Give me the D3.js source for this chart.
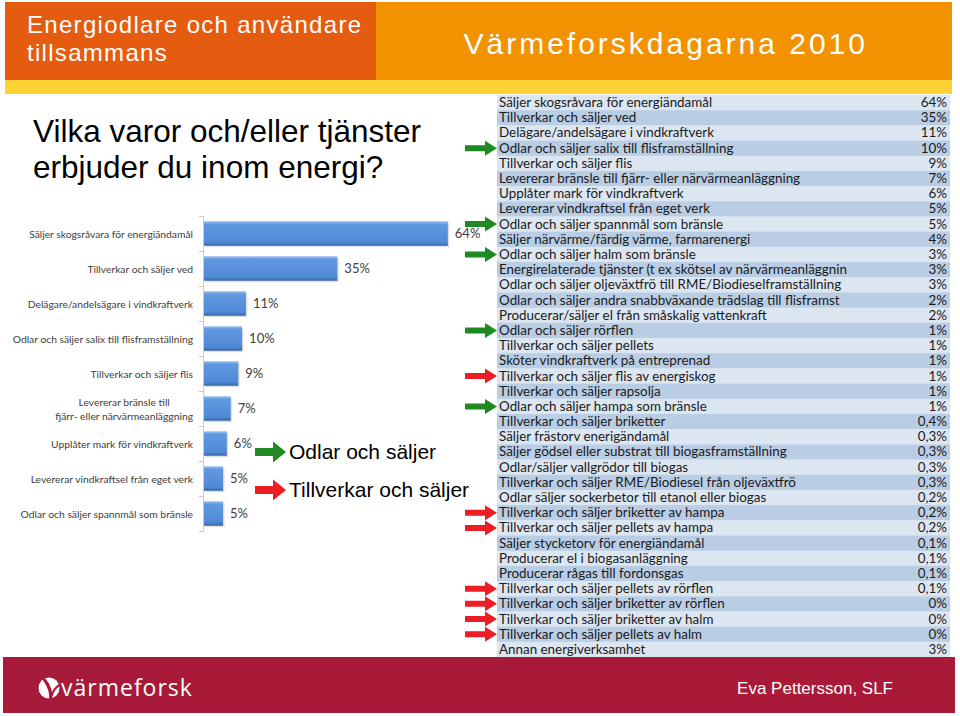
<!DOCTYPE html>
<html>
<head>
<meta charset="utf-8">
<script src="https://cdn.jsdelivr.net/npm/d3@7"></script>
<style>
  body { margin: 0; background: #fff; }
  svg { display: block; }
</style>
</head>
<body>
<div class="canvas"></div>
<script>
// bar chart (top 9 answers)
const barCats = [
  "Säljer skogsråvara för energiändamål",
  "Tillverkar och säljer ved",
  "Delägare/andelsägare i vindkraftverk",
  "Odlar och säljer salix till flisframställning",
  "Tillverkar och säljer flis",
  "Levererar bränsle till|fjärr- eller närvärmeanläggning",
  "Upplåter mark för vindkraftverk",
  "Levererar vindkraftsel från eget verk",
  "Odlar och säljer spannmål som bränsle"
];
const barVals = [64, 35, 11, 10, 9, 7, 6, 5, 5];

// full table
const tableNames = [
  "Säljer skogsråvara för energiändamål",
  "Tillverkar och säljer ved",
  "Delägare/andelsägare i vindkraftverk",
  "Odlar och säljer salix till flisframställning",
  "Tillverkar och säljer flis",
  "Levererar bränsle till fjärr- eller närvärmeanläggning",
  "Upplåter mark för vindkraftverk",
  "Levererar vindkraftsel från eget verk",
  "Odlar och säljer spannmål som bränsle",
  "Säljer närvärme/färdig värme, farmarenergi",
  "Odlar och säljer halm som bränsle",
  "Energirelaterade tjänster (t ex skötsel av närvärmeanläggnin",
  "Odlar och säljer oljeväxtfrö till RME/Biodieselframställning",
  "Odlar och säljer andra snabbväxande trädslag till flisframst",
  "Producerar/säljer el från småskalig vattenkraft",
  "Odlar och säljer rörflen",
  "Tillverkar och säljer pellets",
  "Sköter vindkraftverk på entreprenad",
  "Tillverkar och säljer flis av energiskog",
  "Tillverkar och säljer rapsolja",
  "Odlar och säljer hampa som bränsle",
  "Tillverkar och säljer briketter",
  "Säljer frästorv enerigändamål",
  "Säljer gödsel eller substrat till biogasframställning",
  "Odlar/säljer vallgrödor till biogas",
  "Tillverkar och säljer RME/Biodiesel från oljeväxtfrö",
  "Odlar säljer sockerbetor till etanol eller biogas",
  "Tillverkar och säljer briketter av hampa",
  "Tillverkar och säljer pellets av hampa",
  "Säljer stycketorv för energiändamål",
  "Producerar el i biogasanläggning",
  "Producerar rågas till fordonsgas",
  "Tillverkar och säljer pellets av rörflen",
  "Tillverkar och säljer briketter av rörflen",
  "Tillverkar och säljer briketter av halm",
  "Tillverkar och säljer pellets av halm",
  "Annan energiverksamhet"
];
const tableVals = [64, 35, 11, 10, 9, 7, 6, 5, 5, 4, 3, 3, 3, 2, 2, 1, 1, 1, 1, 1, 1,
  0.4, 0.3, 0.3, 0.3, 0.3, 0.2, 0.2, 0.2, 0.1, 0.1, 0.1, 0.1, 0, 0, 0, 3];
// g = odlar och säljer (green), r = tillverkar och säljer (red)
const tableMarks = ["", "", "", "g", "", "", "", "", "g", "", "g", "", "", "", "", "g", "", "", "r", "", "g",
  "", "", "", "", "", "", "r", "r", "", "", "", "r", "r", "r", "r", ""];

const legendItems = ["Odlar och säljer", "Tillverkar och säljer"];
const legendCols = ["#1f8a22", "#ee1c24"];

const W = 960, H = 716;
const svg = d3.select(".canvas").append("svg").attr("width", W).attr("height", H);

const defs = svg.append("defs");
const grad = defs.append("linearGradient").attr("id", "barGrad")
  .attr("x1", 0).attr("y1", 0).attr("x2", 0).attr("y2", 1);
grad.append("stop").attr("offset", "0%").attr("stop-color", "#9cc3f2");
grad.append("stop").attr("offset", "12%").attr("stop-color", "#6199e0");
grad.append("stop").attr("offset", "85%").attr("stop-color", "#5089d6");
grad.append("stop").attr("offset", "100%").attr("stop-color", "#3666a8");

// header
svg.append("rect").attr("x", 5).attr("y", 2).attr("width", 371).attr("height", 78).attr("fill", "#e55b10");
svg.append("rect").attr("x", 376).attr("y", 2).attr("width", 576).attr("height", 78).attr("fill", "#f29200");
svg.append("rect").attr("x", 5).attr("y", 80).attr("width", 947).attr("height", 14).attr("fill", "#fed235");

svg.append("text").attr("x", 27).attr("y", 33)
  .style("font-family", "Liberation Sans, Arial").style("font-size", "24px")
  .style("letter-spacing", "1.3px").attr("fill", "#fff").text("Energiodlare och användare");
svg.append("text").attr("x", 27).attr("y", 61)
  .style("font-family", "Liberation Sans, Arial").style("font-size", "24px")
  .style("letter-spacing", "1.3px").attr("fill", "#fff").text("tillsammans");
svg.append("text").attr("x", 868).attr("y", 54).attr("text-anchor", "end")
  .style("font-family", "Liberation Sans, Arial").style("font-size", "30px")
  .style("letter-spacing", "3px").attr("fill", "#fff").text("Värmeforskdagarna 2010");

// title
svg.append("text").attr("x", 33).attr("y", 142)
  .style("font-family", "Liberation Sans, Arial").style("font-size", "31.5px")
  .attr("fill", "#000").text("Vilka varor och/eller tjänster");
svg.append("text").attr("x", 33).attr("y", 178)
  .style("font-family", "Liberation Sans, Arial").style("font-size", "31.5px")
  .attr("fill", "#000").text("erbjuder du inom energi?");

// bar chart
const x = d3.scaleLinear().domain([0, 100]).range([204, 585]);
const y = d3.scaleBand().domain(barCats).range([216, 531])
  .paddingInner(0.3).paddingOuter(0.15);

const chart = svg.append("g");
const step = y.step();

// axis line + ticks between categories
chart.append("line").attr("x1", 203.5).attr("x2", 203.5).attr("y1", 216).attr("y2", 531)
  .attr("stroke", "#d7c4c4").attr("stroke-width", 1);
chart.selectAll(".tk").data(d3.range(barCats.length + 1)).enter().append("line")
  .attr("x1", 199).attr("x2", 204)
  .attr("y1", d => 216 + d * step + 0.5).attr("y2", d => 216 + d * step + 0.5)
  .attr("stroke", "#d7c4c4");

chart.selectAll(".shadow").data(barCats).enter().append("rect")
  .attr("x", x(0) + 1.5).attr("y", d => y(d) + 1.5)
  .attr("width", (d, i) => x(barVals[i]) - x(0))
  .attr("height", y.bandwidth())
  .attr("fill", "#000").attr("opacity", 0.12);

chart.selectAll(".bar").data(barCats).enter().append("rect")
  .attr("x", x(0)).attr("y", d => y(d))
  .attr("width", (d, i) => x(barVals[i]) - x(0))
  .attr("height", y.bandwidth())
  .attr("fill", "url(#barGrad)");

chart.selectAll(".val").data(barCats).enter().append("text")
  .attr("x", (d, i) => x(barVals[i]) + 7)
  .attr("y", d => y(d) + y.bandwidth() / 2 + 4.5)
  .style("font-family", "Lato, sans-serif").style("font-size", "13px")
  .attr("fill", "#404040")
  .text((d, i) => barVals[i] + "%");

chart.selectAll(".lab").data(barCats).enter().append("text")
  .attr("x", 193)
  .attr("y", d => y(d) + y.bandwidth() / 2 + 4)
  .style("font-family", "Lato, sans-serif").style("font-size", "10.3px")
  .attr("fill", "#404040")
  .each(function(d) {
    const parts = d.split("|");
    const t = d3.select(this).attr("text-anchor", "end");
    if (parts.length === 1) { t.text(d); return; }
    // two-line label: lines centred on each other, block right-aligned
    const l1 = t.append("tspan").attr("dy", -7).text(parts[0]);
    const l2 = t.append("tspan").attr("x", 193).attr("dy", 14).text(parts[1]);
    const w2 = l2.node().getComputedTextLength();
    l1.attr("x", 193 - w2 / 2).attr("text-anchor", "middle");
  });

// arrow shape pointing right, tip at (0,0)
function arrowPath(len, shaft, head, headLen) {
  return `M${-len},${-shaft / 2}L${-headLen},${-shaft / 2}L${-headLen},${-head / 2}L0,0`
    + `L${-headLen},${head / 2}L${-headLen},${shaft / 2}L${-len},${shaft / 2}Z`;
}

// legend
const leg = svg.append("g");
legendItems.forEach((t, i) => {
  const ly = 452 + i * 38;
  leg.append("path").attr("d", arrowPath(31, 8, 21, 13))
    .attr("transform", `translate(286,${ly})`).attr("fill", legendCols[i]);
  leg.append("text").attr("x", 289).attr("y", ly + 7)
    .style("font-family", "Liberation Sans, Arial").style("font-size", "21px")
    .attr("fill", "#000").text(t);
});

// table
const ty = d3.scaleBand().domain(d3.range(tableNames.length)).range([95, 657]);
const fmt = v => String(v).replace(".", ",") + "%";
const table = svg.append("g");
table.selectAll(".row").data(tableNames).enter().append("rect")
  .attr("x", 497).attr("y", (d, i) => ty(i))
  .attr("width", 453).attr("height", ty.bandwidth() + 0.3)
  .attr("fill", (d, i) => i % 2 === 0 ? "#dce6f1" : "#b9cde5");
table.selectAll(".name").data(tableNames).enter().append("text")
  .attr("x", 499).attr("y", (d, i) => ty(i) + ty.bandwidth() / 2 + 4.5)
  .style("font-family", "Lato, sans-serif").style("font-size", "13.4px")
  .attr("fill", "#1a1a1a").text(d => d);
table.selectAll(".tval").data(tableVals).enter().append("text")
  .attr("x", 947).attr("text-anchor", "end")
  .attr("y", (d, i) => ty(i) + ty.bandwidth() / 2 + 4.5)
  .style("font-family", "Lato, sans-serif").style("font-size", "13.4px")
  .attr("fill", "#1a1a1a").text(fmt);

table.selectAll(".mark").data(tableMarks.map((m, i) => ({ m, i })).filter(d => d.m))
  .enter().append("path")
  .attr("d", arrowPath(32, 6, 15, 12))
  .attr("transform", d => `translate(497,${ty(d.i) + ty.bandwidth() / 2})`)
  .attr("fill", d => d.m === "g" ? legendCols[0] : legendCols[1]);

// footer
svg.append("rect").attr("x", 3).attr("y", 657).attr("width", 952).attr("height", 56).attr("fill", "#a81a37");
svg.append("rect").attr("x", 17).attr("y", 664).attr("width", 90).attr("height", 48).attr("fill", "#a51b39");
const logo = svg.append("g").attr("transform", "translate(49,688)");
logo.append("circle").attr("r", 10.5).attr("fill", "#fff");
logo.append("path").attr("d", "M-7,-9 C-2,-2 1,4 0,11 L3,11 C4,4 2,-3 -4,-10 Z").attr("fill", "#a81a37");
logo.append("path").attr("d", "M10,-4 C5,-1 2,4 1,11 L3,11 C4,5 7,0 11,-2 Z").attr("fill", "#a81a37");
svg.append("text").attr("x", 61).attr("y", 696)
  .style("font-family", "Open Sans, sans-serif").style("font-size", "23px")
  .style("letter-spacing", "1px").attr("fill", "#fff").text("värmeforsk");
svg.append("text").attr("x", 893).attr("y", 694).attr("text-anchor", "end")
  .style("font-family", "Liberation Sans, Arial").style("font-size", "17px")
  .attr("fill", "#fff").text("Eva Pettersson, SLF");
</script>
</body>
</html>
